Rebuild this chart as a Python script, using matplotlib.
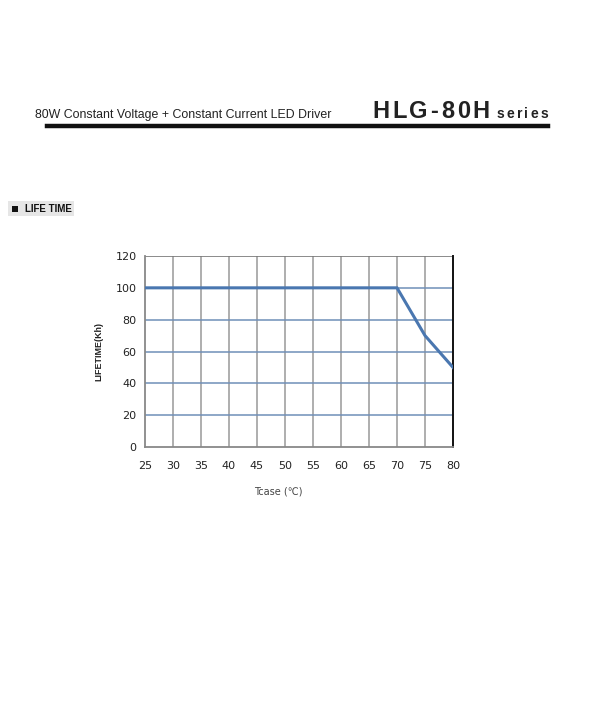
import matplotlib
matplotlib.use("Agg")
import matplotlib.pyplot as plt
from matplotlib.patches import Rectangle

# Data
temps = [25, 30, 35, 40, 45, 50, 55, 60, 65, 70, 75, 80]
lifetime = [100, 100, 100, 100, 100, 100, 100, 100, 100, 100, 70, 50]
x_ticks = [25, 30, 35, 40, 45, 50, 55, 60, 65, 70, 75, 80]
y_ticks = [0, 20, 40, 60, 80, 100, 120]

W, H = 600, 719
fig = plt.figure(figsize=(6, 7.19), dpi=100)
fig.patch.set_facecolor("white")

def fx(px):
    return px / W

def fy(py):
    return 1 - py / H

def spaced(text, x0, y0, x1, **kw):
    """Place characters evenly spread between x0 and x1 (pixels)."""
    fig.canvas.draw()
    r = fig.canvas.get_renderer()
    widths = []
    arts = []
    for ch in text:
        t = fig.text(0, 0, ch, **kw)
        widths.append(t.get_window_extent(r).width)
        arts.append(t)
    gap = (x1 - x0 - sum(widths)) / (len(text) - 1)
    x = x0
    for t, w in zip(arts, widths):
        t.set_position((fx(x), fy(y0)))
        x += w + gap

# Header
fig.text(fx(35), fy(118), "80W Constant Voltage + Constant Current LED Driver",
         fontsize=8.9, family="Liberation Sans", color="#222222", va="baseline", ha="left")
spaced("HLG-80H", 372, 118, 490, fontsize=17, fontweight="bold", family="Liberation Sans",
       color="#222222", va="baseline", ha="left")
spaced("series", 497, 118, 548, fontsize=10, fontweight="bold", family="Liberation Sans",
       color="#222222", va="baseline", ha="left")
fig.add_artist(plt.Line2D([fx(47), fx(548)], [fy(125.5), fy(125.5)], color="#111111", lw=3.2))

# LIFE TIME label box
fig.add_artist(Rectangle((fx(8), fy(216)), fx(66), 15 / H, facecolor="#e6e6e6", edgecolor="none"))
fig.add_artist(Rectangle((fx(12), fy(212)), fx(6), 6 / H, facecolor="#111111", edgecolor="none"))
fig.text(fx(25), fy(208.5), "LIFE TIME", fontsize=7, fontweight="bold", family="Liberation Sans",
         color="#111111", va="center", ha="left")

# Axes
ax = fig.add_axes([fx(145), fy(447), fx(453 - 145), (447 - 256) / H])
ax.set_xlim(25, 80)
ax.set_ylim(0, 120)
ax.set_xticks(x_ticks)
ax.set_yticks(y_ticks)
for x in x_ticks[1:-1]:
    ax.axvline(x, color="#999999", lw=1.1, zorder=1)
for y in y_ticks[1:-1]:
    ax.axhline(y, color="#6f8fb8", lw=1.1, zorder=1)
ax.axhline(120, color="#777777", lw=1.2, zorder=1)
ax.plot(temps, lifetime, color="#4a77b0", lw=2.2, zorder=3, solid_joinstyle="miter")

for s in ["left", "bottom"]:
    ax.spines[s].set_color("#888888")
    ax.spines[s].set_linewidth(1.3)
ax.spines["top"].set_visible(False)
ax.spines["right"].set_color("#111111")
ax.spines["right"].set_linewidth(1.4)
ax.tick_params(axis="both", length=0, labelsize=8, colors="#222222", pad=6)
ax.tick_params(axis="x", pad=10)
for lab in ax.get_xticklabels() + ax.get_yticklabels():
    lab.set_family("DejaVu Sans")

ax.set_ylabel("LIFETIME(Kh)", fontsize=6.4, fontweight="bold", family="Liberation Sans",
              color="#222222", labelpad=9)
fig.text(fx(278), fy(491), "Tcase (℃)", fontsize=7, family="DejaVu Sans",
         color="#444444", ha="center", va="center")

fig.savefig("out.png", dpi=100, facecolor="white")
